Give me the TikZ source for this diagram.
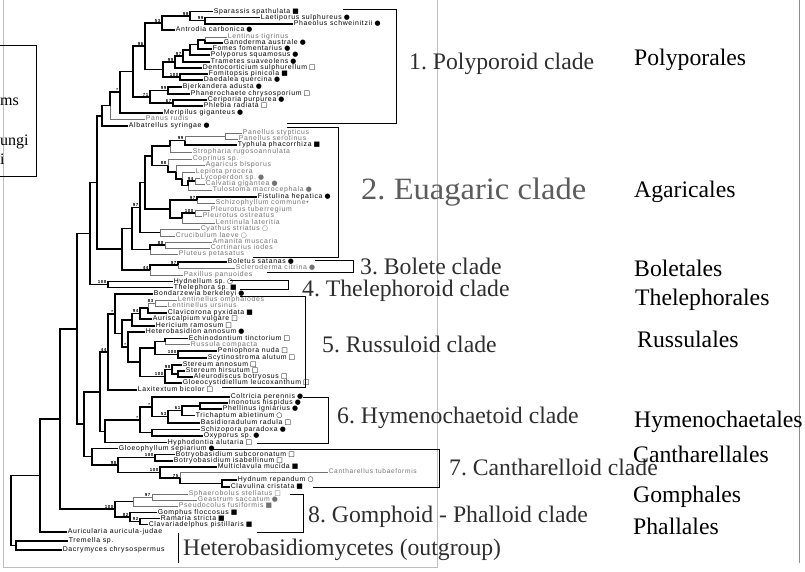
\documentclass[tikz,border=0pt]{standalone}
\usepackage{fontspec}
\setmainfont{Liberation Serif}
\newfontfamily\leaffam{Liberation Sans}[LetterSpace=10]
\newfontfamily\symfam{DejaVu Sans}
\newcommand{\leaffont}{\leaffam\fontsize{6.9}{6.9}\selectfont}
\newcommand{\supfont}{\leaffam\bfseries\fontsize{4.4}{4.4}\selectfont}
% symbols after the species names
\newcommand{\fcir}{\hspace{0.3em}{\symfam ●}}
\newcommand{\ocir}{\hspace{0.3em}{\symfam ○}}
\newcommand{\fsq}{\hspace{0.3em}{\symfam ■}}
\newcommand{\osq}{\hspace{0.3em}{\symfam □}}
\definecolor{cladegray}{HTML}{2E2E2E}
\definecolor{euagray}{HTML}{5C5C5C}
\definecolor{framegray}{HTML}{BDBDBD}

\begin{document}
\frenchspacing
\begin{tikzpicture}[x=1pt, y=-1pt,
    leaf/.style={anchor=west, inner sep=0.6pt, text height=4.9pt, text depth=1.3pt, font=\leaffont},
    gleaf/.style={leaf, text=black!55},
    br/.style={line width=1.3pt},
    lbr/.style={line width=0.7pt, black!55},
    sup/.style={anchor=south east, inner sep=0.6pt, font=\supfont},
    clade/.style={anchor=base west, inner sep=0pt, text=cladegray, font=\fontsize{23.7}{26}\selectfont},
    order/.style={anchor=base west, inner sep=0pt, font=\fontsize{23.7}{26}\selectfont},
    cbox/.style={line width=0.9pt}
]
\fill[white] (0,0) rectangle (805,571);
\useasboundingbox (0,0) rectangle (805,571);

% frames of the pasted figure
\draw[framegray] (3,0) -- (3,567) -- (437,567) -- (437,0);
\draw[black!45] (799,0) -- (799,563);

% cut-off legend box
\draw[cbox] (0,45) -- (36,45) -- (36,176) -- (0,176);
\node[anchor=base west, inner sep=0pt, font=\fontsize{16}{18}\selectfont] (lg1) at (0,105) {ms};
\node[anchor=base west, inner sep=0pt, font=\fontsize{16}{18}\selectfont] (lg2) at (0,145) {ungi};
\node[anchor=base west, inner sep=0pt, font=\fontsize{16}{18}\selectfont] (lg3) at (0,164) {i};

% ---- leaves: polyporoid
\node[leaf] (spar) at (213,11.5) {Sparassis spathulata\fsq};
\node[leaf] (laet) at (260,17.5) {Laetiporus sulphureus\fcir};
\node[leaf] (phae) at (293,24) {Phaeolus schweinitzii\fcir};
\node[leaf] (antr) at (175,30) {Antrodia carbonica\fcir};
\node[gleaf] (lent) at (227,37) {Lentinus tigrinus};
\node[leaf] (gano) at (223,43) {Ganoderma australe\fcir};
\node[leaf] (fome) at (212,49) {Fomes fomentarius\fcir};
\node[leaf] (poly) at (210,55) {Polyporus squamosus\fcir};
\node[leaf] (tram) at (210,62) {Trametes suaveolens\fcir};
\node[leaf] (dent) at (202,68) {Dentocorticium sulphurellum\osq};
\node[leaf] (fomi) at (208,74) {Fomitopsis pinicola\fsq};
\node[leaf] (daed) at (203,80) {Daedalea quercina\fcir};
\node[leaf] (bjer) at (182,87) {Bjerkandera adusta\fcir};
\node[leaf] (phan) at (190,94) {Phanerochaete chrysosporium\osq};
\node[leaf] (ceri) at (207,100) {Ceriporia purpurea\fcir};
\node[leaf] (phle) at (203,106) {Phlebia radiata\osq};
\node[leaf] (meri) at (163,113) {Meripilus giganteus\fcir};
\node[gleaf] (panu) at (145,119) {Panus rudis};
\node[leaf] (alba) at (128,126) {Albatrellus syringae\fcir};
% ---- leaves: euagaric, bolete, thelephoroid
\node[gleaf] (pst) at (242,133) {Panellus stypticus};
\node[gleaf] (pse) at (238,139) {Panellus serotinus};
\node[leaf] (typh) at (237,145) {Typhula phacorrhiza\fsq};
\node[gleaf] (stro) at (192,152) {Stropharia rugosoannulata};
\node[gleaf] (copr) at (192,159) {Coprinus sp.};
\node[gleaf] (agar) at (205,165) {Agaricus bisporus};
\node[gleaf] (lepi) at (195,172) {Lepiota procera};
\node[gleaf] (lyco) at (200,178) {Lycoperdon sp.\fcir};
\node[gleaf] (calv) at (205,184) {Calvatia gigantea\fcir};
\node[gleaf] (tulo) at (212,190) {Tulostoma macrocephala\fcir};
\node[leaf] (fist) at (257,197) {Fistulina hepatica\fcir};
\node[gleaf] (schi) at (215,203) {Schizophyllum commune•};
\node[gleaf] (pltu) at (210,210) {Pleurotus tuberregium};
\node[gleaf] (plos) at (202,216) {Pleurotus ostreatus};
\node[gleaf] (lenu) at (215,223) {Lentinula lateritia};
\node[gleaf] (cyat) at (200,229) {Cyathus striatus\ocir};
\node[gleaf] (cruc) at (175,236) {Crucibulum laeve\ocir};
\node[gleaf] (aman) at (212,242) {Amanita muscaria};
\node[gleaf] (cort) at (210,248) {Cortinarius iodes};
\node[gleaf] (plut) at (178,254) {Pluteus petasatus};
\node[leaf] (bole) at (227,262) {Boletus satanas\fcir};
\node[gleaf] (scle) at (235,268) {Scleroderma citrina\fcir};
\node[gleaf] (paxi) at (183,275) {Paxillus panuoides};
\node[leaf] (hydl) at (173,281.5) {Hydnellum sp.\ocir};
\node[leaf] (thel) at (173,287.5) {Thelephora sp.\fsq};
% ---- leaves: russuloid
\node[leaf] (bond) at (153,294) {Bondarzewia berkeleyi\fcir};
\node[gleaf] (lomp) at (177,300) {Lentinellus omphalodes};
\node[gleaf] (lurs) at (167,306) {Lentinellus ursinus};
\node[leaf] (clav) at (167,313) {Clavicorona pyxidata\fsq};
\node[leaf] (auri) at (152,319) {Auriscalpium vulgare\osq};
\node[leaf] (heri) at (155,326) {Hericium ramosum\osq};
\node[leaf] (hete) at (145,332) {Heterobasidion annosum\fcir};
\node[leaf] (echi) at (188,338.5) {Echinodontium tinctorium\osq};
\node[gleaf] (russ) at (190,344.5) {Russula compacta};
\node[leaf] (peni) at (217,351) {Peniophora nuda\osq};
\node[leaf] (scyt) at (207,358) {Scytinostroma alutum\osq};
\node[leaf] (stan) at (182,365) {Stereum annosum\osq};
\node[leaf] (sthi) at (185,371) {Stereum hirsutum\osq};
\node[leaf] (aleu) at (193,377) {Aleurodiscus botryosus\osq};
\node[leaf] (gloc) at (182,383) {Gloeocystidiellum leucoxanthum\osq};
\node[leaf] (laxi) at (137,390) {Laxitextum bicolor\osq};
% ---- leaves: hymenochaetoid
\node[leaf] (colt) at (230,397) {Coltricia perennis\fcir};
\node[leaf] (inon) at (228,403) {Inonotus hispidus\fcir};
\node[leaf] (phel) at (222,409) {Phellinus igniarius\fcir};
\node[leaf] (tric) at (195,415.5) {Trichaptum abietinum\ocir};
\node[leaf] (basi) at (200,423) {Basidioradulum radula\osq};
\node[leaf] (schz) at (200,429.5) {Schizopora paradoxa\fcir};
\node[leaf] (oxyp) at (203,436) {Oxyporus sp.\fcir};
\node[leaf] (hyph) at (167,442.5) {Hyphodontia alutaria\osq};
% ---- leaves: cantharelloid
\node[leaf] (gloe) at (118,448.5) {Gloeophyllum sepiarium\fcir};
\node[leaf] (bosu) at (175,454.8) {Botryobasidium subcoronatum\osq};
\node[leaf] (bois) at (173,461) {Botryobasidium isabellinum\osq};
\node[leaf] (mult) at (217,467) {Multiclavula mucida\fsq};
\node[gleaf, font=\leaffam\fontsize{6.6}{6.6}\selectfont] (cant) at (328,472) {Cantharellus tubaeformis};
\node[leaf] (hydn) at (237,480) {Hydnum repandum\ocir};
\node[leaf] (clvl) at (230,487) {Clavulina cristata\fsq};
% ---- leaves: gomphoid-phalloid and outgroup
\node[gleaf] (spha) at (188,494) {Sphaerobolus stellatus\osq};
\node[gleaf] (geas) at (197,500) {Geastrum saccatum\fcir};
\node[gleaf] (pseu) at (178,506) {Pseudocolus fusiformis\fsq};
\node[leaf] (gomp) at (157,512.5) {Gomphus floccosus\fsq};
\node[leaf] (rama) at (160,518.5) {Ramaria stricta\fsq};
\node[leaf] (clvd) at (148,524.5) {Clavariadelphus pistillaris\fsq};
\node[leaf] (auric) at (67,532) {Auricularia auricula-judae};
\node[leaf] (trem) at (68,541) {Tremella sp.};
\node[leaf] (dacr) at (62,550) {Dacrymyces chrysospermus};

% ---- internal nodes
\coordinate (p1) at (205,20.5);  \coordinate (p2) at (190,16);
\coordinate (p3) at (162,23);    \coordinate (p4) at (205,40);
\coordinate (p5) at (198,44.5);  \coordinate (p6) at (190,50);
\coordinate (p7) at (183,56);    \coordinate (p8) at (175,62);
\coordinate (p9) at (180,77);    \coordinate (p10) at (163,69.5);
\coordinate (p11) at (145,46);   \coordinate (p12) at (168,90.5);
\coordinate (p13) at (173,103);  \coordinate (p14) at (150,97);
\coordinate (p15) at (133,71.5); \coordinate (p16) at (120,92);
\coordinate (p17) at (110,105.5);\coordinate (p18) at (102,116);
\coordinate (e1) at (225,136);   \coordinate (e2) at (185,140.5);
\coordinate (e3) at (170,146);   \coordinate (e4) at (195,181);
\coordinate (e5) at (188,185.5); \coordinate (e6) at (182,179);
\coordinate (e7) at (176,172);   \coordinate (e8) at (168,165.5);
\coordinate (e9) at (152,156);   \coordinate (e10) at (197,200);
\coordinate (e11) at (195,213);  \coordinate (e12) at (182,218);
\coordinate (e13) at (170,209);  \coordinate (e14) at (145,182.5);
\coordinate (e15) at (160,232.5);\coordinate (e16) at (140,207.5);
\coordinate (e17) at (165,245);  \coordinate (e18) at (150,249.5);
\coordinate (e19) at (132,228.5);\coordinate (e20) at (122,249);
\coordinate (b1) at (178,265);   \coordinate (b2) at (150,270);
\coordinate (t1) at (108,284.5);
\coordinate (u1) at (97,182.5);  \coordinate (u2) at (90,233.5);
\coordinate (r1) at (155,303);   \coordinate (r2) at (148,308);
\coordinate (r3) at (140,313.5); \coordinate (r4) at (132,320);
\coordinate (r5) at (165,341.5); \coordinate (r6) at (178,354.5);
\coordinate (r7) at (155,348);   \coordinate (r8) at (178,374);
\coordinate (r9) at (172,369.5); \coordinate (r10) at (165,376.5);
\coordinate (r11) at (140,362);  \coordinate (r12) at (128,347);
\coordinate (r13) at (122,333.5);\coordinate (r14) at (115,314);
\coordinate (r15) at (108,352);
\coordinate (h1) at (200,406);   \coordinate (h2) at (182,410.5);
\coordinate (h3) at (168,416.5); \coordinate (h4) at (152,407);
\coordinate (h5) at (152,432.5); \coordinate (h6) at (140,420);
\coordinate (h7) at (105,431.5); \coordinate (y1) at (100,392);
\coordinate (c1) at (155,457.5); \coordinate (c2) at (222,483.5);
\coordinate (c3) at (180,478);   \coordinate (c4) at (160,472.5);
\coordinate (c5) at (118,465);   \coordinate (c6) at (92,456.5);
\coordinate (z1) at (84,424);    \coordinate (x1) at (77,329);
\coordinate (g1) at (152,497);   \coordinate (g2) at (133,501.5);
\coordinate (g3) at (140,521.5); \coordinate (g4) at (130,517);
\coordinate (g5) at (115,509);   \coordinate (hom) at (60,419);
\coordinate (ing) at (40,475.5); \coordinate (out) at (16,545.5);
\coordinate (root) at (11,510.5);

% ---- branches
\foreach \p/\c in {p1/laet, p1/phae, p2/spar, p2/p1, p3/p2, p3/antr, p4/gano,
    p5/p4, p5/fome, p6/p5, p6/poly, p7/p6, p7/tram, p8/p7, p8/dent, p9/fomi,
    p9/daed, p10/p8, p10/p9, p11/p3, p11/p10, p12/bjer, p12/phan, p13/ceri,
    p13/phle, p14/p12, p14/p13, p15/p11, p15/p14, p16/p15, p16/meri, p17/p16,
    p18/p17, p18/alba,
    e2/typh, e3/e2, e8/e7, e7/e6, e6/e5, e5/e4, e9/e3, e9/e8, e10/fist,
    e12/e11, e13/e10, e13/e12, e14/e9, e14/e13, e16/e14, e16/e15, e18/e17,
    e19/e16, e19/e18, b1/bole, b2/b1, e20/e19, e20/b2, t1/hydl, t1/thel,
    u1/p18, u1/e20, u2/u1, u2/t1,
    r2/clav, r3/r2, r3/auri, r4/r3, r4/heri, r5/echi, r6/peni, r6/scyt,
    r7/r5, r7/r6, r8/sthi, r8/aleu, r9/stan, r9/r8, r10/r9, r10/gloc,
    r11/r7, r11/r10, r12/hete, r12/r11, r13/r4, r13/r12, r14/bond, r14/r13,
    r15/r14, r15/laxi,
    h1/inon, h1/phel, h2/h1, h2/tric, h3/h2, h3/basi, h4/colt, h4/h3,
    h5/schz, h5/oxyp, h6/h4, h6/h5, h7/h6, h7/hyph, y1/r15, y1/h7,
    c1/bosu, c1/bois, c2/hydn, c2/clvl, c3/c2, c4/mult, c4/c3, c5/c1, c5/c4,
    c6/gloe, c6/c5, z1/y1, z1/c6, x1/u2, x1/z1,
    g3/rama, g3/clvd, g4/gomp, g4/g3, g5/g2, g5/g4, hom/x1, hom/g5,
    ing/hom, ing/auric, out/trem, out/dacr, root/ing, root/out}
  \draw[br] (\p) |- (\c);
\foreach \p/\c in {p4/lent, p17/panu, e1/pst, e1/pse, e2/e1, e3/stro,
    e8/copr, e7/agar, e6/lepi, e4/lyco, e4/calv, e5/tulo, e10/schi,
    e11/pltu, e11/plos, e12/lenu, e15/cyat, e15/cruc, e17/aman, e17/cort,
    e18/plut, b1/scle, b2/paxi, r1/lomp, r1/lurs, r2/r1, r5/russ, c3/cant,
    g1/spha, g1/geas, g2/g1, g2/pseu}
  \draw[lbr] (\p) |- (\c);

% ---- support values
\foreach \n/\v in {p1/99, p2/99, p3/53, p7/97, p8/99, p9/100, p11/96,
    p12/99, p13/67, p14/71, p16/*, e2/99, e4/94, e8/88, e10/97, e11/100,
    e16/97, e17/88, b1/97, b2/44, t1/100, r1/83, r3/94, r6/100, r9/98,
    r10/100, r12/*, r14/*, r15/44, h2/61, h3/53, h4/*, h6/*, c1/100,
    c3/75, c4/100, c5/98, g1/97, g3/92, g4/82, g5/100}
  \node[sup] (s\n) at ([xshift=-1pt]\n) {\v};

% ---- clade brackets
\draw[cbox] (343,9) -- (396,9) -- (396,123) -- (287,123);
\draw[cbox] (287,127) -- (338,127) -- (338,257) -- (253,257);
\draw[cbox] (315,260) -- (353,260) -- (353,272) -- (267,272);
\draw[cbox] (230,280) -- (288,280) -- (288,289) -- (240,289);
\draw[cbox] (240,296) -- (305,296) -- (305,387) -- (222,387);
\draw[cbox] (303,397) -- (328,397) -- (328,443) -- (257,443);
\draw[cbox] (212,449) -- (439,449) -- (439,487) -- (313,487);
\draw[cbox] (290,494) -- (303,494) -- (303,532) -- (257,532);
\draw[cbox] (178,533) -- (178,563);

% ---- clade names
\node[clade] (cl1) at (409,69.5) {1. Polyporoid clade};
\node[clade, text=euagray, font=\fontsize{31}{34}\selectfont] (cl2) at (361,199) {\scalebox{1.05}[1]{2. Euagaric clade}};
\node[clade] (cl3) at (360,274.5) {3. Bolete clade};
\node[clade] (cl4) at (302,296.5) {4. Thelephoroid clade};
\node[clade] (cl5) at (322,352) {5. Russuloid clade};
\node[clade] (cl6) at (337,423) {6. Hymenochaetoid clade};
\node[clade] (cl7) at (449,475) {7. Cantharelloid clade};
\node[clade] (cl8) at (308,522) {8. Gomphoid - Phalloid clade};
\node[clade] (cl9) at (183,555) {Heterobasidiomycetes (outgroup)};

% ---- orders
\node[order] (or1) at (634,65) {Polyporales};
\node[order] (or2) at (634,197) {Agaricales};
\node[order] (or3) at (634,276) {Boletales};
\node[order] (or4) at (635,305) {Thelephorales};
\node[order] (or5) at (637,347) {Russulales};
\node[order] (or6) at (634,427) {Hymenochaetales};
\node[order] (or7) at (633,462) {Cantharellales};
\node[order] (or8) at (633,502) {Gomphales};
\node[order] (or9) at (633,534) {Phallales};
\end{tikzpicture}
\end{document}
